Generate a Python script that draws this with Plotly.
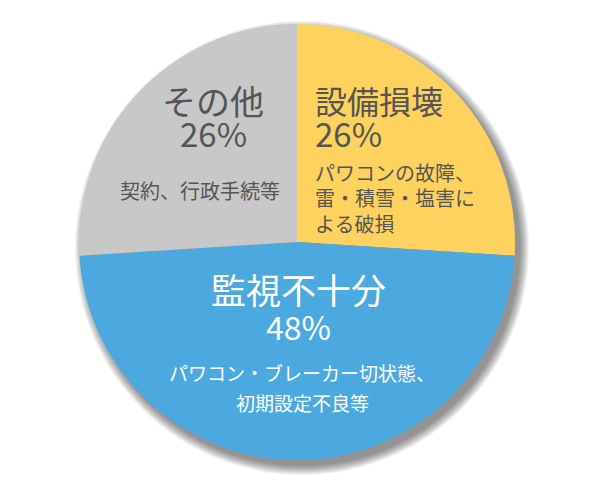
import plotly.graph_objects as go

# slices, clockwise from 12 o'clock
labels = ["設備損壊", "監視不十分", "その他"]
values = [26, 48, 26]
details = [
    ["パワコンの故障、", "雷・積雪・塩害に", "よる破損"],
    ["パワコン・ブレーカー切状態、", "初期設定不良等"],
    ["契約、行政手続等"],
]
colors = ["#FDD25E", "#4BA9DF", "#C8C8C8"]
text_colors = ["#555555", "#FFFFFF", "#555555"]

W, H = 600, 482
PAD = 8  # page body margin the browser adds
cx, cy, r = 297, 242, 218  # pixel centre / radius (from top-left of window)
FONT = "Noto Sans CJK JP"


def px(x):
    return (x - PAD) / W


def py(y):
    return 1 - (y - PAD) / H


fig = go.Figure(
    go.Pie(
        labels=labels,
        values=values,
        sort=False,
        direction="clockwise",
        rotation=0,
        marker=dict(colors=colors, line=dict(width=0)),
        textinfo="none",
        hoverinfo="label+percent",
        showlegend=False,
        domain=dict(x=[px(cx - r), px(cx + r)], y=[py(cy + r), py(cy - r)]),
    )
)

# soft drop shadow toward bottom-right
shapes = []
for k in range(10):
    rr = r + k
    ox, oy = 5, 6
    shapes.append(dict(
        type="circle", xref="paper", yref="paper", layer="below",
        x0=px(cx + ox - rr), x1=px(cx + ox + rr),
        y0=py(cy + oy + rr), y1=py(cy + oy - rr),
        fillcolor="rgba(0,0,0,0.05)", line=dict(width=0),
    ))

# label blocks: (x, y of title, anchor)
blocks = [
    (313, 100, "left"),
    (298, 288, "center"),
    (213, 100, "center"),
]
title_sizes = [32, 35, 34]
pct_sizes = [33, 32, 33]
pct_offsets = [33, 38, 33]
detail_sizes = [20, 19, 20]
detail_offsets = [72, 84, 90]
detail_gap = [26, 30, 26]

annotations = []
for i, lab in enumerate(labels):
    x, y, anchor = blocks[i]
    col = text_colors[i]
    annotations.append(dict(
        x=px(x), y=py(y), xref="paper", yref="paper", xanchor=anchor, yanchor="middle",
        text=lab, showarrow=False, font=dict(family=FONT, size=title_sizes[i], color=col),
    ))
    annotations.append(dict(
        x=px(x), y=py(y + pct_offsets[i]), xref="paper", yref="paper", xanchor=anchor,
        yanchor="middle", text=f"{values[i]}%", showarrow=False,
        font=dict(family=FONT, size=pct_sizes[i], color=col),
    ))
    for j, line in enumerate(details[i]):
        dx = x + (4 if i == 1 else 0)
        dx = dx - 13 if i == 2 else dx
        annotations.append(dict(
            x=px(dx), y=py(y + detail_offsets[i] + j * detail_gap[i]), xref="paper", yref="paper",
            xanchor=anchor, yanchor="middle", text=line, showarrow=False,
            font=dict(family=FONT, size=detail_sizes[i], color=col),
        ))

fig.update_layout(
    width=W, height=H,
    margin=dict(l=0, r=0, t=0, b=0),
    paper_bgcolor="white",
    plot_bgcolor="white",
    shapes=shapes,
    annotations=annotations,
)

fig.write_html("out.html")
